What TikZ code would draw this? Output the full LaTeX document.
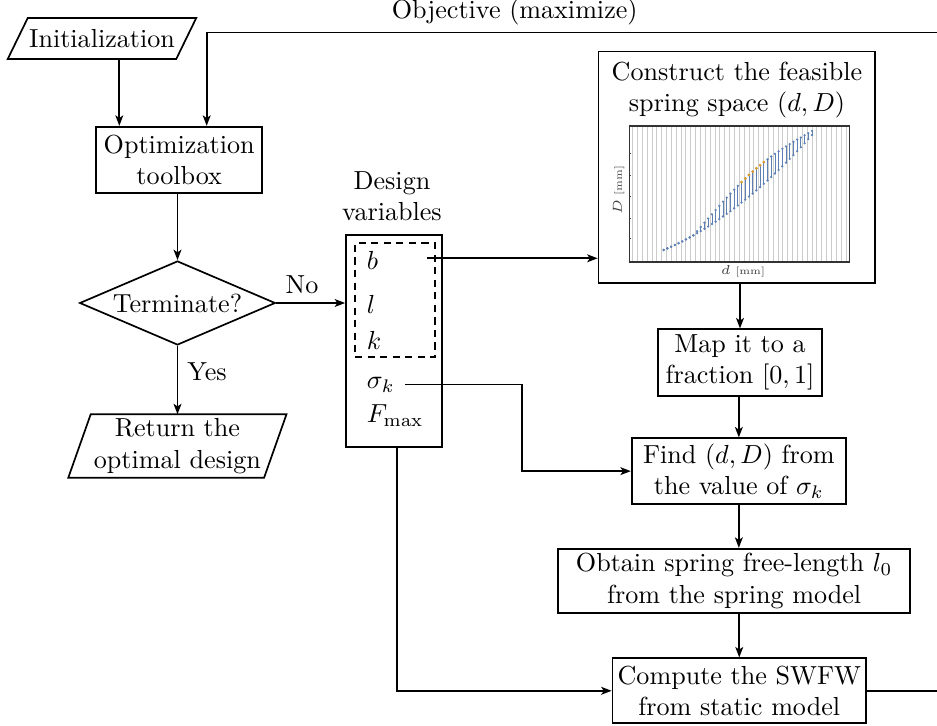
\documentclass[tikz,border=0pt]{standalone}
\usetikzlibrary{arrows.meta,shapes.geometric,calc}
\definecolor{ptblue}{RGB}{94,129,181}
\definecolor{ptorange}{RGB}{224,156,36}
\tikzset{
  sz/.style 2 args={minimum width={#1*0.3831pt},minimum height={#2*0.3831pt}},
  box/.style={draw,rectangle,align=center,inner sep=0pt},
  plain/.style={inner sep=0pt,outer sep=0pt,align=center},
  tinyfont/.style={font=\fontsize{3.8}{4.5}\selectfont,text=black!75,inner sep=0pt},
  gridline/.style={black!20,line width=0.35pt},
  bar/.style={ptblue,line width=0.3pt},
}
\begin{document}
\begin{tikzpicture}[x=0.3831pt,y=-0.3831pt,line width=0.65pt,
  >={Stealth[length=4pt,width=3pt,inset=1pt]}]
\useasboundingbox (0,0) rectangle (937,726);

% ---------- left column ----------
\node[plain,sz={168.5}{41}] (init) at (102,38.5) {Initialization};
\draw ($(init.south west)+(-10,0)$) -- ($(init.north west)+(10,0)$) --
      ($(init.north east)+(10,0)$) -- ($(init.south east)+(-10,0)$) -- cycle;

\node[box,sz={166.3}{66}] (opt) at (179.15,159.7) {Optimization\\toolbox};

\node[draw,diamond,aspect=2.33,inner sep=0pt,sz={195.7}{84}] (term) at (177.5,303) {Terminate?};

\node[plain,sz={195.8}{63.4}] (ret) at (177.4,446) {Return the\\optimal design};
\draw ($(ret.south west)+(-11.2,0)$) -- ($(ret.north west)+(11.2,0)$) --
      ($(ret.north east)+(11.2,0)$) -- ($(ret.south east)+(-11.2,0)$) -- cycle;

\node[plain] (obj) at (514.7,12) {Objective (maximize)};
\node[plain] (nolab) at (302,285) {No};
\node[plain] (yeslab) at (207,372) {Yes};

% ---------- design variables ----------
\node[plain] (dvlab) at (392,196) {Design\\variables};
\node[box,sz={95.7}{212.3}] (dv) at (393.85,341.15) {};
\node[draw,rectangle,dash pattern=on 2.8pt off 2pt,line width=0.75pt,inner sep=0pt,sz={80}{114}] (dash) at (395,300.3) {};
\node[anchor=base west,inner sep=0pt] (vb) at (366,270) {$b$};
\node[anchor=base west,inner sep=0pt] (vl) at (366,314) {$l$};
\node[anchor=base west,inner sep=0pt] (vk) at (366,350) {$k$};
\node[anchor=base west,inner sep=0pt] (vs) at (366,389) {$\sigma_k$};
\node[anchor=base west,inner sep=0pt] (vf) at (366,423) {$F_{\max}$};

% ---------- right column ----------
\node[box,sz={276.5}{231.5}] (plot) at (736.75,167.25) {};
\node[plain] (ptitle) at (737,90) {Construct the feasible\\spring space $(d,D)$};

% plot contents
\foreach \k in {0,...,44}{
  \draw[gridline] ({632.6+\k*4.85},126) -- ({632.6+\k*4.85},262);
}
\foreach \yy in {153.3,175,196.7,218.3,238.3}{
  \draw[black!70,line width=0.3pt] (629.3,\yy) -- (631.3,\yy);
}
\draw[black!80,line width=0.4pt] (629.3,126) rectangle (849.3,262);
\foreach \i in {0,...,40}{
  \pgfmathsetmacro\tv{\i/40}
  \pgfmathsetmacro\xa{663.7+148.3*\tv}
  \pgfmathsetmacro\ylo{250-62.8*\tv-52.2*\tv*\tv}
  \pgfmathsetmacro\gapv{\tv>0.2 ? 22*sin(180*(\tv-0.2)/0.85) : 0}
  \pgfmathsetmacro\yhi{\ylo-\gapv}
  \draw[bar] (\xa,\ylo) -- (\xa,\yhi);
  \fill[ptblue] (\xa,\ylo) circle[radius=1.3];
  \fill[ptblue] (\xa,\yhi) circle[radius=1.3];
}
\foreach \i in {21,...,27}{
  \pgfmathsetmacro\tv{\i/40}
  \pgfmathsetmacro\xa{663.7+148.3*\tv}
  \pgfmathsetmacro\ylo{250-62.8*\tv-52.2*\tv*\tv}
  \pgfmathsetmacro\yhi{\ylo-22*sin(180*(\tv-0.2)/0.85)}
  \fill[ptorange] (\xa,\yhi) circle[radius=1.5];
}
\node[tinyfont,rotate=90] (ylab) at (618.7,190) {$D$ [mm]};
\node[tinyfont] (xlab) at (743,271.7) {$d$ [mm]};

\node[box,sz={163.4}{66.7}] (map) at (740,362.65) {Map it to a\\fraction $[0,1]$};
\node[box,sz={214.3}{65.7}] (find) at (738.85,471.15) {Find $(d,D)$ from\\the value of $\sigma_k$};
\node[box,sz={351.7}{64.6}] (obtain) at (734.15,581) {Obtain spring free-length $l_0$\\from the spring model};
\node[box,sz={253.5}{65}] (comp) at (739.25,690.8) {Compute the SWFW\\from static model};

% ---------- helper coordinates ----------
\coordinate (x1) at (119.3,0);
\coordinate (x2) at (206.7,0);
\coordinate (objR) at (937,32.5);
\coordinate (bR) at (427.3,258.3);
\coordinate (sR) at (405,384.5);
\coordinate (x3) at (522,0);
\coordinate (x4) at (397,0);
\coordinate (cR) at (937,0);

% ---------- connectors ----------
\draw[->] (init.south -| x1) -- (opt.north -| x1);
\draw[->] (objR) -- (objR -| x2) -- (opt.north -| x2);
\draw[->] (opt.south -| term.north) -- (term.north);
\draw[->] (term.east) -- (term.east -| dv.west);
\draw[->] (term.south) -- (term.south |- ret.north);
\draw[->] (bR) -- (bR -| plot.west);
\draw[->] (sR) -- (sR -| x3) -- (x3 |- find.west) -- (find.west);
\draw[->] (dv.south -| x4) -- (x4 |- comp.west) -- (comp.west);
\draw[->] (map.north |- plot.south) -- (map.north);
\draw[->] (map.south -| find.north) -- (find.north);
\draw[->] (find.south) -- (find.south |- obtain.north);
\draw[->] (obtain.south -| comp.north) -- (comp.north);
\draw (comp.east) -- (comp.east -| cR);
\end{tikzpicture}
\end{document}
